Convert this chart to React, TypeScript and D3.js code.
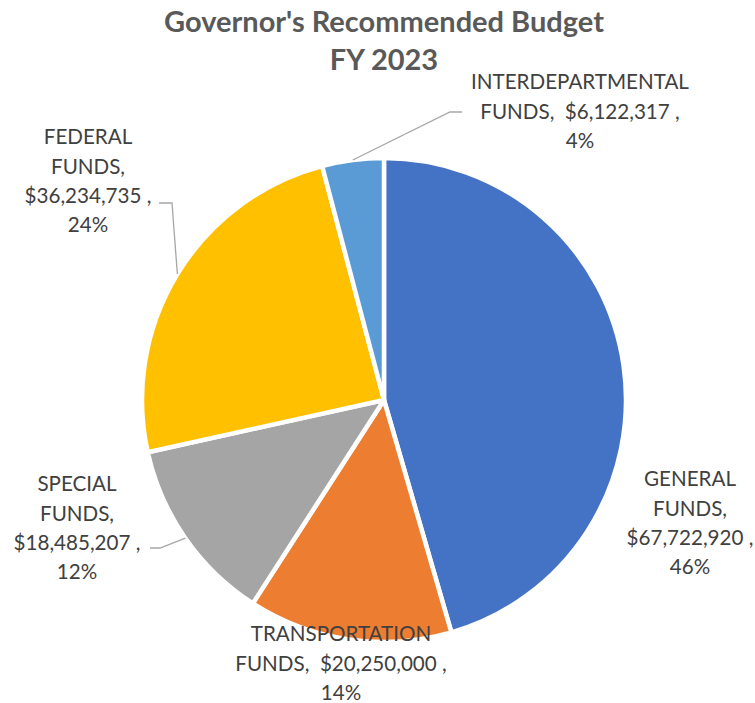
import React from 'react';
import { pie, arc, PieArcDatum } from 'd3';

const categories = ['GENERAL', 'TRANSPORTATION', 'SPECIAL', 'FEDERAL', 'INTERDEPARTMENTAL'];
const amounts = [67722920, 20250000, 18485207, 36234735, 6122317];
const colors = ['#4472C4', '#ED7D31', '#A5A5A5', '#FFC000', '#5B9BD5'];
const titleLines = ["Governor's Recommended Budget", 'FY 2023'];

// label layout: centre x, first line y, line builder
const labelLayout = [
  { x: 690, y: 479, lines: (n: string, v: string, p: string) => [n, 'FUNDS,', v + ' ,', p] },
  { x: 341, y: 634, lines: (n: string, v: string, p: string) => [n, 'FUNDS,  ' + v + ' ,', p] },
  { x: 77, y: 484, lines: (n: string, v: string, p: string) => [n, 'FUNDS,', v + ' ,', p] },
  { x: 88, y: 137, lines: (n: string, v: string, p: string) => [n, 'FUNDS,', v + ' ,', p] },
  { x: 580, y: 82, lines: (n: string, v: string, p: string) => [n, 'FUNDS,  ' + v + ' ,', p] },
];

// leader line elbows (label side)
const leaders: Record<number, [number, number][]> = {
  4: [[450, 112], [462, 112]],
  3: [[172, 203], [159, 203]],
  2: [[160, 548], [150, 548]],
};

const W = 755, H = 703;
const cx = 384, cy = 400, R = 242;
const lineH = 29.3;
const font = "Lato, 'Open Sans', sans-serif";

export default function App() {
  const total = amounts.reduce((a, b) => a + b, 0);
  const arcs = pie<number>().sort(null).value(d => d)(amounts);
  const arcGen = arc<PieArcDatum<number>>().innerRadius(0).outerRadius(R);
  const fmt = (v: number) => '$' + v.toLocaleString('en-US');

  return (
    <svg width={W} height={H} style={{ display: 'block', position: 'absolute', left: 0, top: 0 }}>
      <rect width={W} height={H} fill="#fff" />
      {titleLines.map((t, i) => (
        <text key={i} x={cx} y={22 + i * 38} dy="0.35em" textAnchor="middle"
          fontFamily={font} fontWeight={700} fontSize={29} fill="#595959">{t}</text>
      ))}
      <g transform={`translate(${cx},${cy})`}>
        {arcs.map((a, i) => (
          <path key={i} d={arcGen(a) || ''} fill={colors[i]} stroke="#fff" strokeWidth={4.5} strokeLinejoin="round" />
        ))}
      </g>
      {arcs.map((a, i) => {
        const pts = leaders[i];
        if (!pts) return null;
        const mid = (a.startAngle + a.endAngle) / 2;
        const sx = cx + R * Math.sin(mid);
        const sy = cy - R * Math.cos(mid);
        const d = `M${sx},${sy}` + pts.map(p => `L${p[0]},${p[1]}`).join('');
        return <path key={i} d={d} fill="none" stroke="#A6A6A6" strokeWidth={1.3} />;
      })}
      {arcs.map((a, i) => {
        const lay = labelLayout[i];
        const pct = Math.round((amounts[i] / total) * 100) + '%';
        const lines = lay.lines(categories[i], fmt(amounts[i]), pct);
        return (
          <text key={i} textAnchor="middle" fontFamily={font} fontSize={20.6} fill="#404040" xmlSpace="preserve">
            {lines.map((l, j) => (
              <tspan key={j} x={lay.x} y={lay.y + j * lineH} dy="0.35em">{l}</tspan>
            ))}
          </text>
        );
      })}
    </svg>
  );
}
